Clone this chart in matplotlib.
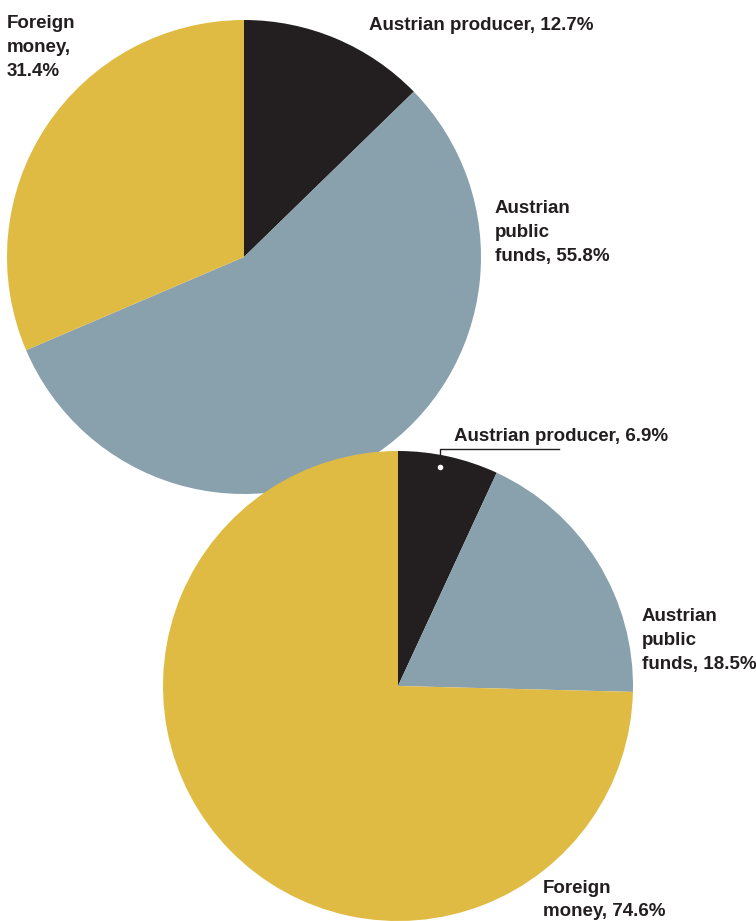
import matplotlib.pyplot as plt

# funding shares (percent), clockwise from 12 o'clock
sources = ['Austrian producer', 'Austrian public funds', 'Foreign money']
shares_a = [12.7, 55.8, 31.4]
shares_b = [6.9, 18.5, 74.6]

labels_a = ['Foreign\nmoney,\n31.4%', 'Austrian producer, 12.7%', 'Austrian\npublic\nfunds, 55.8%']
labels_b = ['Austrian producer, 6.9%', 'Austrian\npublic\nfunds, 18.5%', 'Foreign\nmoney, 74.6%']

colors = ['#231f20', '#89a1ad', '#e0bb43']
ink = '#231f20'

W, H = 756, 921
plt.rcParams['font.family'] = ['Liberation Sans', 'DejaVu Sans']

fig = plt.figure(figsize=(W / 100, H / 100), dpi=100)
ax = fig.add_axes([0, 0, 1, 1])


def py(y):
    # pixel row (from top) -> data y
    return H - y


ax.pie(shares_a, colors=colors, startangle=90, counterclock=False,
       center=(244, py(257)), radius=237,
       wedgeprops=dict(linewidth=0))
ax.pie(shares_b, colors=colors, startangle=90, counterclock=False,
       center=(398, py(686)), radius=235,
       wedgeprops=dict(linewidth=0))

txt = dict(fontsize=13.5, fontweight='bold', color=ink, ha='left', va='top',
           linespacing=1.55)
ax.text(7, py(15), labels_a[0], **txt)
ax.text(369, py(17), labels_a[1], **txt)
ax.text(495, py(200), labels_a[2], **txt)
ax.text(454, py(428), labels_b[0], **txt)
ax.text(642, py(608), labels_b[1], **txt)
ax.text(543, py(880), labels_b[2], fontsize=13.5, fontweight='bold', color=ink,
        ha='left', va='top', linespacing=1.45)

# leader for the small wedge
ax.plot([440, 440, 559], [py(467), py(449), py(449)], color=ink, lw=1)
ax.plot([440], [py(467)], 'o', color='white', ms=4, mec='none')

ax.set_xlim(0, W)
ax.set_ylim(0, H)
ax.set_aspect('auto')
ax.axis('off')

fig.savefig('out.png', dpi=100)
